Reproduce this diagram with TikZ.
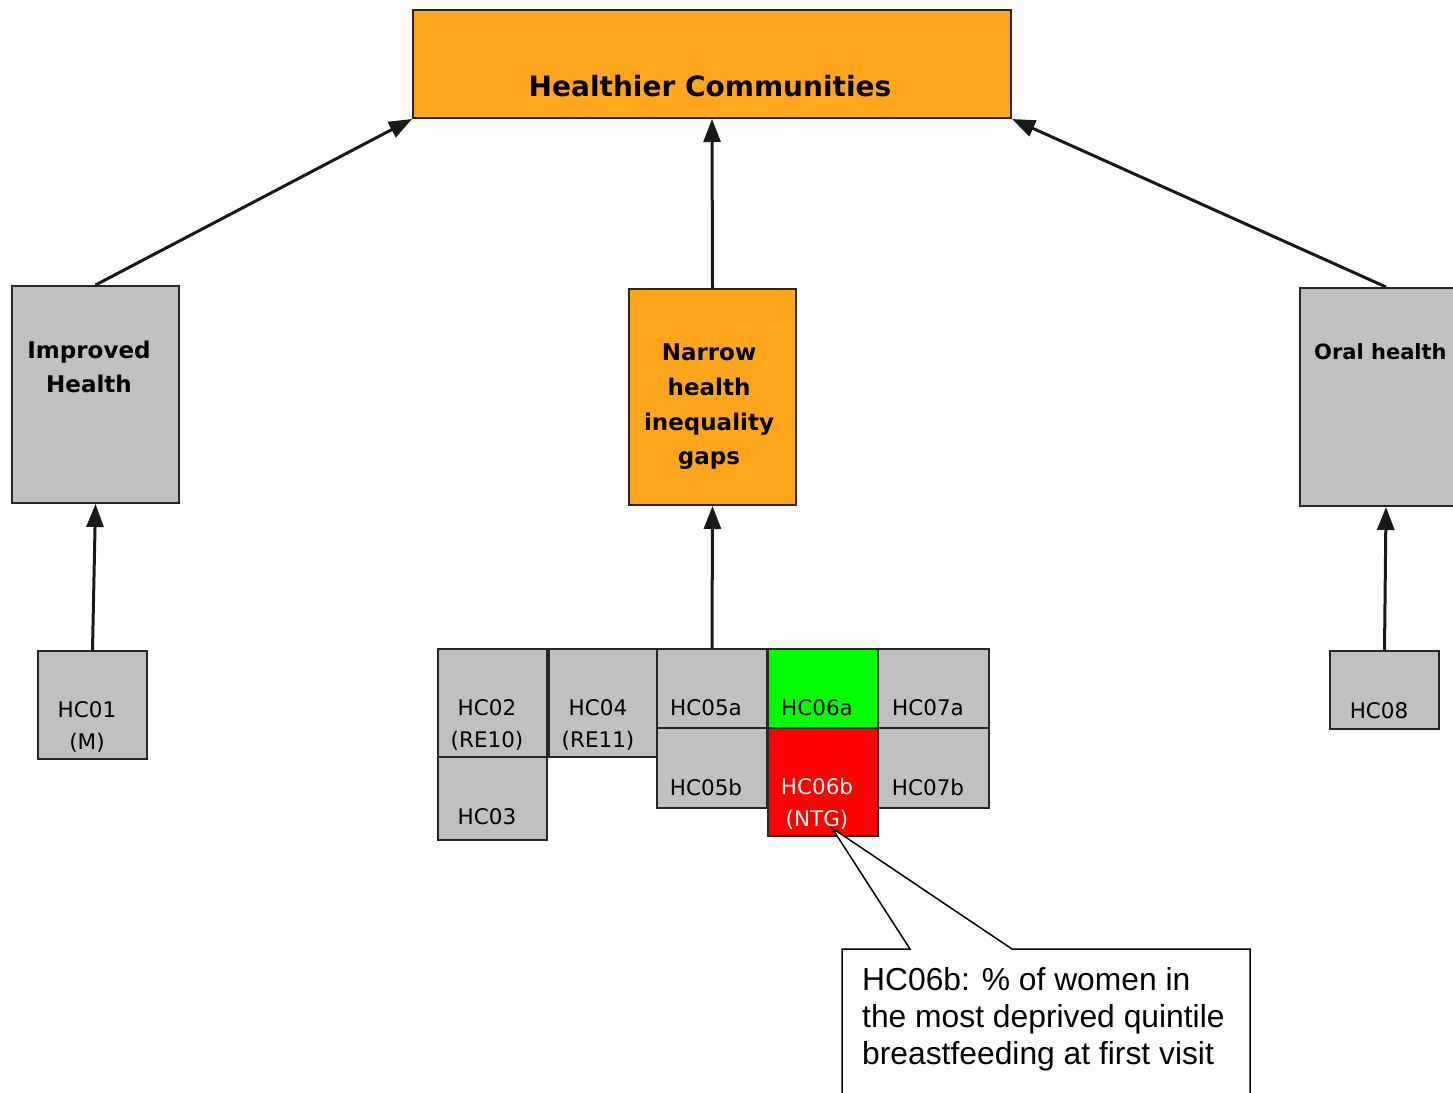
\documentclass[tikz,border=0pt]{standalone}
\usepackage{fontspec}
\setmainfont{Liberation Sans}
\newfontfamily\dvs{DejaVu Sans}
\usetikzlibrary{arrows.meta}
\definecolor{orng}{RGB}{255,166,28}
\definecolor{gry}{RGB}{192,192,192}
\definecolor{grn}{RGB}{0,255,0}
\definecolor{rd}{RGB}{255,0,0}
\tikzset{
  box/.style={draw=black!85,line width=2pt,inner sep=0pt,anchor=north west,fill=gry},
  obox/.style={box,fill=orng},
  arr/.style={line width=3pt,black!90,-{Triangle[length=23pt,width=17pt]}},
  big/.style={font=\dvs\bfseries\fontsize{23}{34}\selectfont,inner sep=0pt,align=center},
  hc/.style={font=\dvs\fontsize{21.5}{32}\selectfont,inner sep=0pt,align=center}
}
\begin{document}
\begin{tikzpicture}[x=1pt,y=-1pt]
\useasboundingbox[fill=white] (0,0) rectangle (1453,1092);
% main boxes
\node[obox,minimum width=598pt,minimum height=108pt] (top) at (412,9) {};
\node[font=\dvs\bfseries\fontsize{28}{34}\selectfont,inner sep=0pt] (toptxt) at (710,86) {Healthier Communities};
\node[box,minimum width=167pt,minimum height=217pt] (imp) at (11,285) {};
\node[big] (imptxt) at (89,367) {Improved\\Health};
\node[obox,minimum width=167pt,minimum height=216pt] (nar) at (628,288) {};
\node[big,font=\dvs\bfseries\fontsize{23}{34.7}\selectfont] (nartxt) at (709,407) {Narrow\\health\\inequality\\gaps};
\node[box,minimum width=172pt,minimum height=218pt] (oral) at (1299,287) {};
\node[big,anchor=west,font=\dvs\bfseries\fontsize{21}{30}\selectfont] (oraltxt) at (1314,352) {Oral health};
% small boxes
\node[box,minimum width=109pt,minimum height=108pt] (hc01) at (37,650) {};
\node[hc] (hc01t) at (87,727) {HC01\\(M)};
\node[box,minimum width=109pt,minimum height=78pt] (hc08) at (1329,650) {};
\node[hc] (hc08t) at (1379,711) {HC08};
\node[box,minimum width=109pt,minimum height=108pt] (hc02) at (437,648) {};
\node[hc] (hc02t) at (487,725) {HC02\\(RE10)};
\node[box,minimum width=109pt,minimum height=83pt] (hc03) at (437,756) {};
\node[hc] (hc03t) at (487,817) {HC03};
\node[box,minimum width=108pt,minimum height=108pt] (hc04) at (548,648) {};
\node[hc] (hc04t) at (598,725) {HC04\\(RE11)};
\node[box,minimum width=110pt,minimum height=79pt] (hc05a) at (656,648) {};
\node[hc] (hc05at) at (706,708) {HC05a};
\node[box,minimum width=110pt,minimum height=80pt] (hc05b) at (656,727) {};
\node[hc] (hc05bt) at (706,787) {HC05b};
\node[box,fill=grn,minimum width=110pt,minimum height=79pt] (hc06a) at (767,648) {};
\node[hc] (hc06at) at (817,708) {HC06a};
\node[box,fill=rd,minimum width=110pt,minimum height=108pt] (hc06b) at (767,727) {};
\node[hc,text=white] (hc06bt) at (817,804) {HC06b\\(NTG)};
\node[box,minimum width=111pt,minimum height=79pt] (hc07a) at (877,648) {};
\node[hc] (hc07at) at (928,708) {HC07a};
\node[box,minimum width=111pt,minimum height=80pt] (hc07b) at (877,727) {};
\node[hc] (hc07bt) at (928,787) {HC07b};
% arrows
\draw[arr] (imp.north) -- (top.south west);
\draw[arr] (nar.north) -- (top.south);
\draw[arr] (oral.north) -- (top.south east);
\draw[arr] (hc01.north) -- (imp.south);
\draw[arr] (hc05a.north west) ++(56,0) coordinate (gtop) (gtop) -- (nar.south);
\draw[arr] (hc08.north) -- (oral.south);
% callout
\coordinate (tip) at (832,828);
\draw[line width=1.5pt,fill=white] (842,1100) -- (842,949) -- (910,949) -- (tip) -- (1012,949) -- (1250,949) -- (1250,1100);
\node[font=\fontsize{31.8}{37}\selectfont,align=left,anchor=north west,inner sep=0pt] (note) at (862,967) {HC06b: \% of women in\\the most deprived quintile\\breastfeeding at first visit};
\end{tikzpicture}
\end{document}
